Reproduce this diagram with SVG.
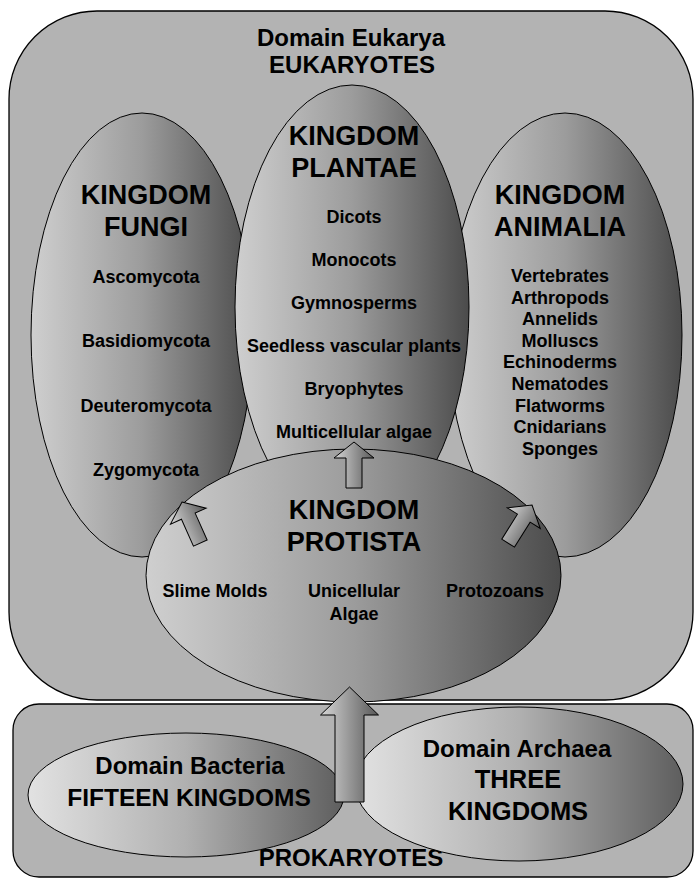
<svg xmlns="http://www.w3.org/2000/svg" width="695" height="880" viewBox="0 0 695 880">
<defs>
<linearGradient id="gk" x1="0" y1="0" x2="1" y2="0">
<stop offset="0" stop-color="#cfcfcf"/>
<stop offset="0.5" stop-color="#9c9c9c"/>
<stop offset="1" stop-color="#4b4b4b"/>
</linearGradient>
<linearGradient id="gp" x1="0" y1="0" x2="1" y2="0">
<stop offset="0" stop-color="#e2e2e2"/>
<stop offset="0.5" stop-color="#b0b0b0"/>
<stop offset="1" stop-color="#5e5e5e"/>
</linearGradient>
<linearGradient id="ga" x1="0" y1="0" x2="1" y2="0">
<stop offset="0" stop-color="#d6d6d6"/>
<stop offset="1" stop-color="#585858"/>
</linearGradient>
<style>
.box{fill:#b3b3b3;stroke:#000;stroke-width:1.3}
.ell{fill:url(#gk);stroke:#000;stroke-width:1}
.pro{fill:url(#gp);stroke:#000;stroke-width:1}
.arr{fill:url(#ga);stroke:#000;stroke-width:1;stroke-linejoin:miter}
text{font-family:"Liberation Sans",Arial,sans-serif;font-weight:bold;fill:#000;text-anchor:middle}
.dom{font-size:24px}
.big{font-size:27px}
.item{font-size:18px}
</style>
</defs>

<g id="eukarya">
<rect class="box" x="9" y="11" width="684" height="689" rx="88" ry="88"/>
<text class="dom" x="351" y="46">Domain Eukarya</text>
<text class="dom" x="352" y="73">EUKARYOTES</text>
</g>

<g id="fungi">
<ellipse class="ell" cx="142" cy="335" rx="111" ry="222"/>
<text class="big" x="146" y="204">KINGDOM</text>
<text class="big" x="146" y="236">FUNGI</text>
<text class="item" x="146" y="283">Ascomycota</text>
<text class="item" x="146" y="347">Basidiomycota</text>
<text class="item" x="146" y="412">Deuteromycota</text>
<text class="item" x="146" y="476">Zygomycota</text>
</g>

<g id="animalia">
<ellipse class="ell" cx="565" cy="335" rx="117" ry="222"/>
<text class="big" x="560" y="204">KINGDOM</text>
<text class="big" x="560" y="236">ANIMALIA</text>
<text class="item" x="560" y="282">Vertebrates</text>
<text class="item" x="560" y="303.6">Arthropods</text>
<text class="item" x="560" y="325.2">Annelids</text>
<text class="item" x="560" y="346.8">Molluscs</text>
<text class="item" x="560" y="368.4">Echinoderms</text>
<text class="item" x="560" y="390">Nematodes</text>
<text class="item" x="560" y="411.6">Flatworms</text>
<text class="item" x="560" y="433.2">Cnidarians</text>
<text class="item" x="560" y="454.8">Sponges</text>
</g>

<g id="plantae">
<ellipse class="ell" cx="352" cy="307" rx="117" ry="222"/>
<text class="big" x="354" y="145">KINGDOM</text>
<text class="big" x="354" y="177">PLANTAE</text>
<text class="item" x="354" y="223">Dicots</text>
<text class="item" x="354" y="266">Monocots</text>
<text class="item" x="354" y="309">Gymnosperms</text>
<text class="item" x="354" y="352">Seedless vascular plants</text>
<text class="item" x="354" y="395">Bryophytes</text>
<text class="item" x="354" y="438">Multicellular algae</text>
</g>

<g id="protista">
<ellipse class="ell" cx="353.5" cy="575.5" rx="207.5" ry="126.5"/>
<text class="big" x="354" y="519">KINGDOM</text>
<text class="big" x="354" y="551">PROTISTA</text>
<text class="item" x="215" y="597">Slime Molds</text>
<text class="item" x="354" y="597">Unicellular</text>
<text class="item" x="354" y="620">Algae</text>
<text class="item" x="495" y="597">Protozoans</text>
</g>

<g id="prokaryotes">
<rect class="box" x="13" y="704" width="680" height="173" rx="26" ry="26"/>
<text class="dom" x="351" y="866">PROKARYOTES</text>
</g>

<g id="bacteria">
<ellipse class="pro" cx="186" cy="795" rx="158" ry="62"/>
<text class="dom" x="190" y="774">Domain Bacteria</text>
<text x="189" y="806" style="font-size:24.5px">FIFTEEN KINGDOMS</text>
</g>

<g id="archaea">
<ellipse class="pro" cx="519" cy="784" rx="164" ry="77"/>
<text class="dom" x="517" y="757">Domain Archaea</text>
<text x="518" y="788" style="font-size:25.5px">THREE</text>
<text x="518" y="820" style="font-size:25.5px">KINGDOMS</text>
</g>

<g id="connectors">
<path class="arr" transform="translate(354,442)" d="M0,0 L20,16 L8,16 L8,46 L-8,46 L-8,16 L-20,16 Z"/>
<path class="arr" transform="translate(182,502) rotate(-24)" d="M0,0 L19.5,15.5 L7.5,15.5 L7.5,45 L-7.5,45 L-7.5,15.5 L-19.5,15.5 Z"/>
<path class="arr" transform="translate(532,505) rotate(32)" d="M0,0 L19.5,15.5 L7.5,15.5 L7.5,45 L-7.5,45 L-7.5,15.5 L-19.5,15.5 Z"/>
<path class="arr" transform="translate(349.5,687)" d="M0,0 L29,28 L14.5,28 L14.5,115 L-14.5,115 L-14.5,28 L-29,28 Z"/>
</g>
</svg>
